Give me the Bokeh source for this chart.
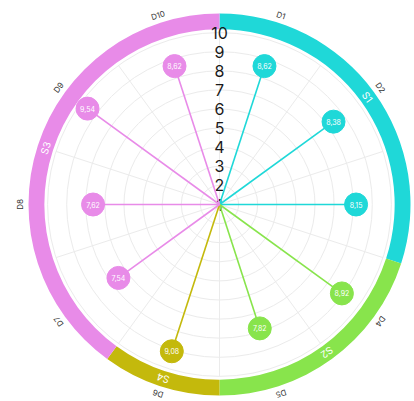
import math
from bokeh.plotting import figure
from bokeh.models import ColumnDataSource, Range1d
from bokeh.embed import file_html
from bokeh.resources import INLINE
from bokeh.core.properties import value

# ---- data ----
dims = ["D1", "D2", "D3", "D4", "D5", "D6", "D7", "D8", "D9", "D10"]
scores = [8.62, 8.38, 8.15, 8.92, 7.82, 9.08, 7.54, 7.62, 9.54, 8.62]
dim_section = ["S1", "S1", "S1", "S2", "S2", "S4", "S3", "S3", "S3", "S3"]
sections = ["S1", "S2", "S4", "S3"]
section_colors = {"S1": "#1fd8d8", "S2": "#88e44c", "S4": "#c4b90c", "S3": "#e88be8"}
ticks = [1, 2, 3, 4, 5, 6, 7, 8, 9, 10]
r_min, r_max = 1, 10

# ---- layout ----
U = 19.1  # px per radial unit
W, H = 414, 401
CX, CY = 219, 204
FONT = "Inter"

p = figure(width=W, height=H, output_backend="svg", toolbar_location=None,
           x_range=Range1d(-CX / U, (W - CX) / U), y_range=Range1d(-(H - CY) / U, CY / U),
           min_border=0, outline_line_color=None, background_fill_color="white")
p.axis.visible = False
p.grid.visible = False

n = len(dims)
step = 2 * math.pi / n
def ang(theta):  # clockwise-from-top -> math angle
    return math.pi / 2 - theta

R = lambda v: v - r_min
ring_in, ring_out = R(r_max) + 0.17, R(r_max) + 1

# grid circles
p.circle(x=[0] * len(ticks), y=[0] * len(ticks), radius=[R(t) for t in ticks],
         fill_color=None, line_color="#ebebeb", line_width=1)
# spokes at boundaries
bx = [R(r_max) * math.cos(ang(i * step)) for i in range(n)]
by = [R(r_max) * math.sin(ang(i * step)) for i in range(n)]
p.segment(x0=[0] * n, y0=[0] * n, x1=bx, y1=by, line_color="#ebebeb", line_width=1)

# section ring
sec_start, sec_end, sec_mid = [], [], []
for s in sections:
    idx = [i for i, d in enumerate(dim_section) if d == s]
    a0, a1 = min(idx) * step, (max(idx) + 1) * step
    sec_start.append(ang(a1)); sec_end.append(ang(a0)); sec_mid.append((a0 + a1) / 2)
p.annular_wedge(x=0, y=0, inner_radius=ring_in, outer_radius=ring_out,
                start_angle=sec_start, end_angle=sec_end,
                fill_color=[section_colors[s] for s in sections], line_color=None)
rm = (ring_in + ring_out) / 2
p.text(x=[rm * math.cos(ang(t)) for t in sec_mid], y=[rm * math.sin(ang(t)) for t in sec_mid],
       text=sections, angle=[-t for t in sec_mid], text_align="center", text_baseline="middle",
       text_font=value(FONT), text_font_size="10px", text_color="white")

# radial tick labels
p.text(x=[0] * len(ticks), y=[R(t) for t in ticks], text=[str(t) for t in ticks],
       text_align="center", text_baseline="middle", text_font=value(FONT),
       text_font_size="16px", text_color="#1a1a1a")

# lollipops
cols = [section_colors[s] for s in dim_section]
thetas = [(i + 0.5) * step for i in range(n)]
xs = [R(v) * math.cos(ang(t)) for v, t in zip(scores, thetas)]
ys = [R(v) * math.sin(ang(t)) for v, t in zip(scores, thetas)]
src = ColumnDataSource(dict(x=xs, y=ys, c=cols,
                            lab=[f"{v:.2f}".replace(".", ",") for v in scores]))
p.segment(x0=0, y0=0, x1="x", y1="y", line_color="c", line_width=1.6, source=src)
p.scatter(x="x", y="y", size=23, fill_color="c", line_color="c", source=src)
p.text(x="x", y="y", text="lab", text_align="center", text_baseline="middle",
       text_font=value(FONT), text_font_size="7px", text_color="white", source=src)

# dimension labels
rl = ring_out + 0.42
p.text(x=[rl * math.cos(ang(t)) for t in thetas], y=[rl * math.sin(ang(t)) for t in thetas],
       text=dims, angle=[-t for t in thetas], text_align="center", text_baseline="middle",
       text_font=value(FONT), text_font_size="8px", text_color="#333333")

open("out.html", "w").write(file_html(p, INLINE))
